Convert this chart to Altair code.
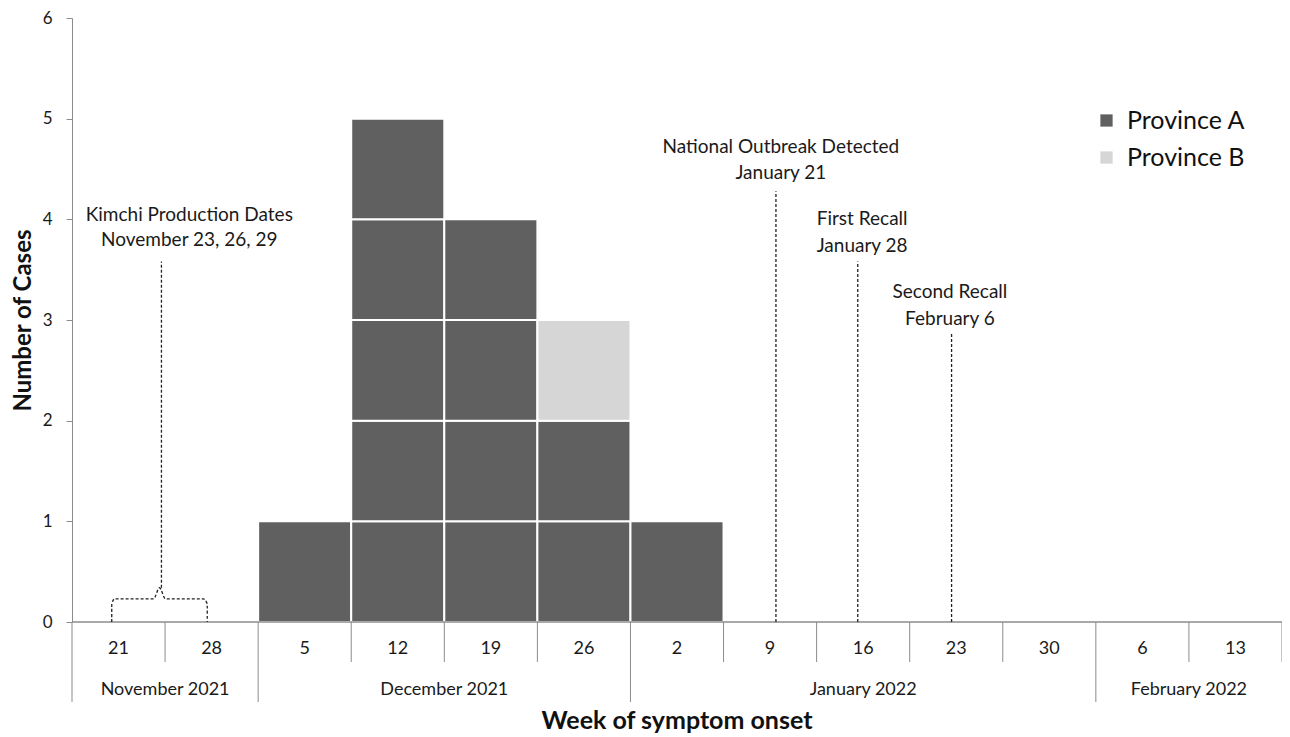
import altair as alt
import pandas as pd

# ---------------- data ----------------
weeks = ["21", "28", "5", "12", "19", "26", "2", "9", "16", "23", "30", "6", "13"]
month_names = ["November 2021", "December 2021", "January 2022", "February 2022"]
month_start = [0, 2, 6, 11]
month_end = [2, 6, 11, 13]
province_a = [0, 0, 1, 5, 4, 2, 1, 0, 0, 0, 0, 0, 0]
province_b = [0, 0, 0, 0, 0, 1, 0, 0, 0, 0, 0, 0, 0]

event_top = ["Kimchi Production Dates", "National Outbreak Detected", "First Recall", "Second Recall"]
event_bottom = ["November 23, 26, 29", "January 21", "January 28", "February 6"]
event_x = [0.961, 7.563, 8.442, 9.450]
event_line_low = [0.34, 0.0, 0.0, 0.0]
event_line_high = [3.58, 4.28, 3.58, 2.87]
label_x = [1.26, 7.616, 8.489, 9.432]
label_y_top = [4.04, 4.72, 4.00, 3.275]
label_y_bottom = [3.79, 4.46, 3.74, 3.01]

brace_x = [0.427, 0.427, 0.459, 0.876, 0.940, 1.004, 1.410, 1.453, 1.453]
brace_y = [0.0, 0.18, 0.23, 0.23, 0.34, 0.23, 0.23, 0.18, 0.0]

# ---------------- tables ----------------
boxes = []
for i, w in enumerate(weeks):
    for k in range(province_a[i]):
        boxes.append({"x": i, "x2": i + 1, "y": k, "y2": k + 1, "Province": "Province A"})
    for k in range(province_b[i]):
        lvl = province_a[i] + k
        boxes.append({"x": i, "x2": i + 1, "y": lvl, "y2": lvl + 1, "Province": "Province B"})
boxes_df = pd.DataFrame(boxes)

week_df = pd.DataFrame({"x": [i + 0.5 for i in range(len(weeks))], "label": weeks})
month_df = pd.DataFrame({"x": [(s + e) / 2 for s, e in zip(month_start, month_end)], "label": month_names})
short_sep = pd.DataFrame({"x": [i for i in range(1, len(weeks) + 1) if i not in month_start]})
long_sep = pd.DataFrame({"x": month_start})
base_df = pd.DataFrame({"x": [0], "x2": [len(weeks)]})

events_df = pd.DataFrame({"x": event_x, "y": event_line_low, "y2": event_line_high})
labels_df = pd.DataFrame({
    "x": label_x + label_x,
    "y": label_y_top + label_y_bottom,
    "label": event_top + event_bottom,
})
brace_df = pd.DataFrame({"x": brace_x, "y": brace_y, "order": list(range(len(brace_x)))})

W, H = 1210, 604
FONT = "Lato"
xs = alt.Scale(domain=[0, len(weeks)], nice=False, zero=False)
ys = alt.Scale(domain=[0, 6], nice=False)

bars = alt.Chart(boxes_df).mark_rect(stroke="white", strokeWidth=2).encode(
    x=alt.X("x:Q", scale=xs, axis=None),
    x2="x2:Q",
    y=alt.Y("y:Q", scale=ys, axis=alt.Axis(
        title="Number of Cases", values=[0, 1, 2, 3, 4, 5, 6], format="d", grid=False,
        tickSize=6, tickColor="#8c8c8c", domainColor="#8c8c8c", labelPadding=14,
        labelFontSize=17, labelFont=FONT, labelColor="#1a1a1a",
        titleFontSize=24, titleFont=FONT, titleFontWeight="bold", titleColor="#111",
        titleX=-49, titleY=H / 2, titleBaseline="middle", titleAlign="center", titleAngle=270)),
    y2="y2:Q",
    color=alt.Color("Province:N", scale=alt.Scale(domain=["Province A", "Province B"],
                                                  range=["#606060", "#d6d6d6"]),
                    legend=alt.Legend(title=None, orient="none", legendX=1022, legendY=90,
                                      symbolType="square", symbolSize=150, symbolStrokeWidth=0,
                                      labelFontSize=25, labelFont=FONT, labelColor="#111",
                                      rowPadding=11, labelOffset=8)),
)

baseline = alt.Chart(base_df).mark_rule(color="#8c8c8c", strokeWidth=1.5).encode(
    x=alt.X("x:Q", scale=xs), x2="x2:Q", y=alt.value(H))

short_rules = alt.Chart(short_sep).mark_rule(color="#8c8c8c", strokeWidth=1).encode(
    x=alt.X("x:Q", scale=xs), y=alt.value(H), y2=alt.value(H + 40))
long_rules = alt.Chart(long_sep).mark_rule(color="#8c8c8c", strokeWidth=1).encode(
    x=alt.X("x:Q", scale=xs), y=alt.value(H), y2=alt.value(H + 80))

week_text = alt.Chart(week_df).mark_text(fontSize=18, font=FONT, color="#1a1a1a", baseline="middle").encode(
    x=alt.X("x:Q", scale=xs), y=alt.value(H + 27), text="label:N")
month_text = alt.Chart(month_df).mark_text(fontSize=18, font=FONT, color="#1a1a1a", baseline="middle").encode(
    x=alt.X("x:Q", scale=xs), y=alt.value(H + 68), text="label:N")
x_title = alt.Chart(pd.DataFrame({"t": ["Week of symptom onset"]})).mark_text(
    fontSize=25, font=FONT, fontWeight="bold", color="#111", baseline="middle").encode(
    x=alt.value(W / 2), y=alt.value(H + 99), text="t:N")

event_rules = alt.Chart(events_df).mark_rule(color="#222", strokeWidth=1.3, strokeDash=[3, 2]).encode(
    x=alt.X("x:Q", scale=xs), y=alt.Y("y:Q", scale=ys), y2="y2:Q")
brace = alt.Chart(brace_df).mark_line(color="#222", strokeWidth=1.3, strokeDash=[3, 2], interpolate="monotone").encode(
    x=alt.X("x:Q", scale=xs), y=alt.Y("y:Q", scale=ys), order="order:Q")
event_text = alt.Chart(labels_df).mark_text(fontSize=19, font=FONT, color="#1a1a1a", baseline="middle").encode(
    x=alt.X("x:Q", scale=xs), y=alt.Y("y:Q", scale=ys), text="label:N")

chart = alt.layer(
    bars, baseline, short_rules, long_rules, week_text, month_text, x_title,
    event_rules, brace, event_text,
).properties(
    width=W, height=H,
    autosize=alt.AutoSizeParams(type="none"),
    padding={"left": 64, "top": 10, "right": 0, "bottom": 115},
    background="white",
).configure_view(stroke=None)

chart.save("out.html", embed_options={"renderer": "svg", "actions": False})
